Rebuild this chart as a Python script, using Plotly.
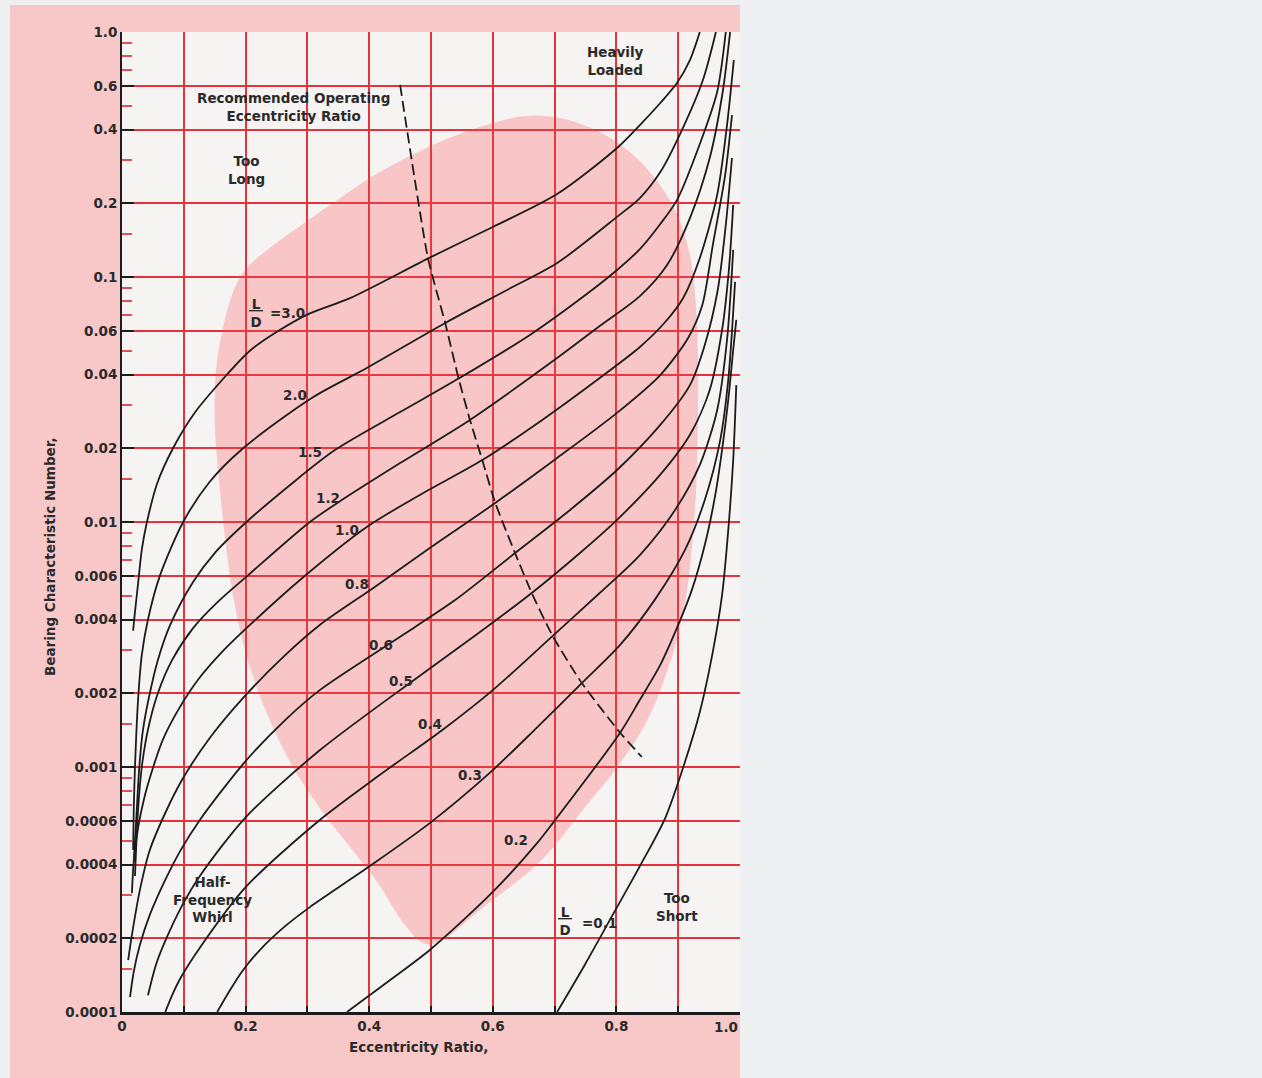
import numpy as np
import plotly.graph_objects as go

# ---- L/D curves: eccentricity ratio vs bearing characteristic number ----
ld_names = ["3.0", "2.0", "1.5", "1.2", "1.0", "0.8", "0.6", "0.5", "0.4", "0.3", "0.2", "0.1"]

ecc_ld30 = [0.018, 0.021, 0.026, 0.032, 0.040, 0.057, 0.083, 0.118, 0.170, 0.207, 0.252,
            0.304, 0.369, 0.498, 0.600, 0.704, 0.801, 0.838, 0.871, 0.898, 0.919, 0.935]
bcn_ld30 = [0.0036, 0.0043, 0.0056, 0.0077, 0.0099, 0.0144, 0.0201, 0.028, 0.040, 0.050, 0.060,
            0.071, 0.082, 0.120, 0.160, 0.218, 0.336, 0.417, 0.513, 0.619, 0.768, 1.0]

ecc_ld20 = [0.018, 0.019, 0.021, 0.026, 0.032, 0.042, 0.061, 0.099, 0.142, 0.196, 0.307,
            0.396, 0.523, 0.623, 0.704, 0.801, 0.838, 0.871, 0.906, 0.940, 0.961]
bcn_ld20 = [0.000458, 0.000668, 0.0010, 0.00188, 0.00286, 0.0040, 0.0060, 0.0100, 0.0146, 0.0200, 0.0321,
            0.0425, 0.0649, 0.0885, 0.114, 0.176, 0.210, 0.268, 0.398, 0.637, 1.0]

ecc_ld15 = [0.019, 0.023, 0.028, 0.034, 0.045, 0.058, 0.078, 0.115, 0.150, 0.196, 0.272, 0.345,
            0.450, 0.544, 0.660, 0.752, 0.801, 0.838, 0.871, 0.898, 0.935, 0.963, 0.977]
bcn_ld15 = [0.000410, 0.000608, 0.0010, 0.00142, 0.0020, 0.00273, 0.00380, 0.00569, 0.00747, 0.00972,
            0.01416, 0.0197, 0.0281, 0.0384, 0.0580, 0.0852, 0.1068, 0.130, 0.1646, 0.206, 0.349,
            0.569, 1.0]

ecc_ld12 = [0.021, 0.026, 0.032, 0.042, 0.058, 0.081, 0.115, 0.155, 0.202, 0.304, 0.358,
            0.450, 0.563, 0.704, 0.773, 0.838, 0.882, 0.919, 0.951, 0.972, 0.984]
bcn_ld12 = [0.000359, 0.000668, 0.0010, 0.00142, 0.0020, 0.00273, 0.00369, 0.00472, 0.0060, 0.0100, 0.0124,
            0.0174, 0.0261, 0.0467, 0.0631, 0.0836, 0.112, 0.174, 0.306, 0.569, 1.0]

ecc_ld10 = [0.016, 0.019, 0.026, 0.036, 0.049, 0.066, 0.091, 0.123, 0.162, 0.207, 0.288, 0.396,
            0.482, 0.583, 0.680, 0.773, 0.838, 0.879, 0.908, 0.935, 0.963, 0.979, 0.990]
bcn_ld10 = [0.000306, 0.000410, 0.000564, 0.000747, 0.000972, 0.00129, 0.00171, 0.00227, 0.00295,
            0.00380, 0.00580, 0.00954, 0.0129, 0.0179, 0.0261, 0.0387, 0.0518, 0.0655, 0.0821,
            0.1196, 0.216, 0.417, 0.768]

ecc_ld08 = [0.010, 0.016, 0.029, 0.045, 0.070, 0.097, 0.142, 0.199, 0.264, 0.320, 0.409,
            0.498, 0.604, 0.704, 0.801, 0.871, 0.916, 0.939, 0.956, 0.976, 0.987]
bcn_ld08 = [0.000163, 0.000206, 0.000315, 0.000458, 0.000649, 0.000885, 0.001313, 0.00195, 0.00286,
            0.00380, 0.00543, 0.00783, 0.01196, 0.01825, 0.0279, 0.0398, 0.0564, 0.0769, 0.135,
            0.261, 0.458]

ecc_ld06 = [0.013, 0.019, 0.029, 0.045, 0.070, 0.095, 0.126, 0.199, 0.264, 0.320, 0.442,
            0.539, 0.636, 0.725, 0.801, 0.871, 0.919, 0.943, 0.964, 0.977, 0.987]
bcn_ld06 = [0.000115, 0.000146, 0.000188, 0.000249, 0.000346, 0.000458, 0.000608, 0.00105, 0.001555,
            0.00206, 0.00330, 0.00480, 0.00747, 0.0112, 0.0163, 0.0249, 0.0362, 0.0528, 0.0885,
            0.163, 0.306]

ecc_ld05 = [0.042, 0.055, 0.070, 0.097, 0.126, 0.199, 0.320, 0.477, 0.571,
            0.663, 0.741, 0.801, 0.871, 0.919, 0.951, 0.971, 0.982, 0.989]
bcn_ld05 = [0.000117, 0.000156, 0.000195, 0.000271, 0.000359, 0.000619, 0.00117, 0.00231, 0.00343,
            0.00513, 0.00747, 0.0102, 0.0156, 0.0227, 0.0346, 0.0608, 0.107, 0.197]

ecc_ld04 = [0.070, 0.081, 0.095, 0.126, 0.199, 0.320, 0.417, 0.519, 0.600,
            0.697, 0.773, 0.838, 0.895, 0.935, 0.963, 0.979, 0.989]
bcn_ld04 = [0.0001, 0.000117, 0.000138, 0.000183, 0.000321, 0.000608, 0.000928, 0.00142, 0.00206,
            0.00343, 0.00513, 0.00733, 0.0112, 0.0171, 0.0286, 0.0553, 0.129]

ecc_ld03 = [0.154, 0.172, 0.194, 0.223, 0.264, 0.304, 0.401, 0.498, 0.595, 0.668,
            0.744, 0.806, 0.862, 0.911, 0.943, 0.968, 0.981, 0.992]
bcn_ld03 = [0.0001, 0.0001196, 0.000146, 0.000179, 0.000224, 0.000268, 0.000394, 0.000590, 0.000946,
            0.00142, 0.00220, 0.00315, 0.00481, 0.00769, 0.0123, 0.0216, 0.0380, 0.0955]

ecc_ld02 = [0.364, 0.434, 0.498, 0.600, 0.672, 0.697, 0.806, 0.838, 0.871,
            0.900, 0.922, 0.943, 0.960, 0.971, 0.981, 0.989, 0.994]
bcn_ld02 = [0.0001, 0.000135, 0.000179, 0.000309, 0.000490, 0.000590, 0.00138, 0.00188, 0.00261,
            0.00380, 0.00527, 0.00805, 0.0129, 0.0197, 0.0315, 0.0504, 0.0668]

ecc_ld01 = [0.704, 0.749, 0.794, 0.838, 0.879, 0.911, 0.935, 0.955, 0.971, 0.981, 0.989, 0.994]
bcn_ld01 = [0.0001, 0.000156, 0.000249, 0.000394, 0.000619, 0.00105, 0.001677, 0.00286, 0.00504,
            0.00927, 0.0179, 0.0362]

# ---- recommended operating eccentricity ratio (dashed) ----
ecc_recommended = [0.450, 0.495, 0.523, 0.544, 0.563, 0.583, 0.604, 0.636, 0.663, 0.697, 0.744, 0.806, 0.841]
bcn_recommended = [0.608, 0.1196, 0.0649, 0.0391, 0.0261, 0.0179, 0.01196, 0.00747, 0.00513, 0.00342,
                   0.0022, 0.00138, 0.0011]

# ---- shaded operating zone outline ----
ecc_zone = [0.178, 0.199, 0.239, 0.288, 0.353, 0.417, 0.503, 0.579, 0.652, 0.709, 0.773, 0.822, 0.862,
            0.895, 0.919, 0.930, 0.932, 0.926, 0.909, 0.883, 0.846, 0.798, 0.752, 0.676, 0.579, 0.519,
            0.490, 0.458, 0.413, 0.369, 0.320, 0.272, 0.227, 0.199, 0.181, 0.167, 0.157, 0.150, 0.154,
            0.178]
bcn_zone = [0.0844, 0.1068, 0.1313, 0.1615, 0.210, 0.268, 0.346, 0.4096, 0.454, 0.4457, 0.3907, 0.3236,
            0.2535, 0.1877, 0.1230, 0.0668, 0.0261, 0.01019, 0.00437, 0.00249, 0.001484, 0.000972,
            0.000700, 0.000410, 0.000261, 0.000197, 0.000190, 0.000226, 0.000339, 0.000471, 0.000680,
            0.001048, 0.001842, 0.00300, 0.00480, 0.00844, 0.01484, 0.0261, 0.0458, 0.0844]

# ---- axis ticks ----
y_major = [1e-4, 2e-4, 4e-4, 6e-4, 1e-3, 2e-3, 4e-3, 6e-3, 0.01, 0.02, 0.04, 0.06, 0.1, 0.2, 0.4, 0.6, 1.0]
y_major_text = ["0.0001", "0.0002", "0.0004", "0.0006", "0.001", "0.002", "0.004", "0.006",
                "0.01", "0.02", "0.04", "0.06", "0.1", "0.2", "0.4", "0.6", "1.0"]
y_minor_mult = [1.5, 3, 5, 7, 8, 9]
x_ticks = [0, 0.1, 0.2, 0.3, 0.4, 0.5, 0.6, 0.7, 0.8, 0.9, 1.0]
x_tick_text = ["0", "", "0.2", "", "0.4", "", "0.6", "", "0.8", "", ""]

# ---- curve label positions (eccentricity, bcn) ----
curve_label_pos = {
    "2.0": (0.280, 0.0330), "1.5": (0.304, 0.0193), "1.2": (0.333, 0.01253),
    "1.0": (0.364, 0.00927), "0.8": (0.380, 0.00558), "0.6": (0.419, 0.00315),
    "0.5": (0.451, 0.00224), "0.4": (0.498, 0.00150), "0.3": (0.563, 0.000927),
    "0.2": (0.638, 0.000504),
}

FONT = "DejaVu Sans"
FS = 13.5
INK = "#1c1c1c"
TXT = "#2a2a2a"
RED = "#e5323c"
RED_TICK = "#e0505a"

curves = [
    (ecc_ld30, bcn_ld30), (ecc_ld20, bcn_ld20), (ecc_ld15, bcn_ld15), (ecc_ld12, bcn_ld12),
    (ecc_ld10, bcn_ld10), (ecc_ld08, bcn_ld08), (ecc_ld06, bcn_ld06), (ecc_ld05, bcn_ld05),
    (ecc_ld04, bcn_ld04), (ecc_ld03, bcn_ld03), (ecc_ld02, bcn_ld02), (ecc_ld01, bcn_ld01),
]

fig = go.Figure()

# translucent operating zone so the grid stays visible through it
fig.add_trace(go.Scatter(
    x=ecc_zone, y=bcn_zone, mode="lines", fill="toself",
    fillcolor="rgba(255,70,70,0.26)", line=dict(width=0, shape="spline", smoothing=1.0),
    hoverinfo="skip", showlegend=False,
))

for name, (ex, by) in zip(ld_names, curves):
    fig.add_trace(go.Scatter(
        x=ex, y=by, mode="lines", name="L/D=" + name,
        line=dict(color=INK, width=1.8, shape="spline", smoothing=0.8),
        showlegend=False,
    ))

fig.add_trace(go.Scatter(
    x=ecc_recommended, y=bcn_recommended, mode="lines", name="Recommended",
    line=dict(color=INK, width=1.8, dash="11px,5px", shape="spline", smoothing=0.5),
    showlegend=False,
))

minor_y = [m * 10.0 ** k for k in range(-4, 0) for m in y_minor_mult]

W, H = 1262, 1078
ML, MR, MT, MB = 122, 522, 32, 66


def font(size=FS):
    return dict(family=FONT, size=size, color=TXT, weight="bold")


def txt(x, bcn, text, **kw):
    d = dict(x=x, y=float(np.log10(bcn)), xref="x", yref="y", text=text, showarrow=False,
             font=font())
    d.update(kw)
    return d


annotations = [
    txt(0.277, 0.494, "Recommended Operating<br>Eccentricity Ratio"),
    txt(0.202, 0.2735, "Too<br>Long"),
    txt(0.799, 0.762, "Heavily<br>Loaded"),
    txt(0.217, 0.0713, "<u>\u2009L\u2009</u><br>D"),
    txt(0.236, 0.0713, "=3.0", xanchor="left"),
    txt(0.717, 0.000235, "<u>\u2009L\u2009</u><br>D"),
    txt(0.741, 0.000231, "=0.1", xanchor="left"),
    txt(0.147, 0.000289, "Half-<br>Frequency<br>Whirl"),
    txt(0.898, 0.000269, "Too<br>Short"),
]
for lbl, (ex, by) in curve_label_pos.items():
    annotations.append(txt(ex, by, lbl))

# axis titles and the clipped end label of the x axis
annotations += [
    dict(x=-0.1327, y=0.4653, xref="paper", yref="paper", text="Bearing Characteristic Number,",
         textangle=-90, showarrow=False, font=font()),
    dict(x=0.479, y=-0.0459, xref="paper", yref="paper", text="Eccentricity Ratio,",
         showarrow=False, font=font()),
    dict(x=1.0, y=0, xref="paper", yref="paper", text="1.0", xanchor="right", yanchor="top",
         yshift=-5, showarrow=False, font=font()),
]

pw = W - ML - MR
ph = H - MT - MB
shapes = [
    # pink page behind the chart
    dict(type="rect", xref="paper", yref="paper", layer="below",
         x0=(10 - ML) / pw, x1=1.0, y0=-(MB) / ph, y1=1 + (MT - 5) / ph,
         fillcolor="#f8c8c8", line=dict(width=0)),
    # plot area paper
    dict(type="rect", xref="paper", yref="paper", layer="below",
         x0=0, x1=1, y0=0, y1=1, fillcolor="#f6f3f3", line=dict(width=0)),
]

fig.update_layout(
    width=W, height=H, autosize=False,
    margin=dict(l=ML, r=MR, t=MT, b=MB, pad=0),
    paper_bgcolor="#eeeff1", plot_bgcolor="#f6f3f3",
    font=font(),
    shapes=shapes, annotations=annotations,
    xaxis=dict(
        range=[0, 1], tickmode="array", tickvals=x_ticks, ticktext=x_tick_text,
        showgrid=True, gridcolor=RED, gridwidth=1.6,
        ticks="inside", ticklen=6, tickwidth=2, tickcolor=INK,
        showline=True, linecolor=INK, linewidth=2.5, zeroline=False,
        tickfont=font(),
    ),
    yaxis=dict(
        type="log", range=[-4, 0], tickmode="array", tickvals=y_major, ticktext=y_major_text,
        showgrid=True, gridcolor=RED, gridwidth=1.6,
        minor=dict(tickmode="array", tickvals=minor_y, ticks="inside", ticklen=10, tickwidth=2,
                   tickcolor=RED_TICK, showgrid=False),
        ticks="inside", ticklen=12, tickwidth=2, tickcolor=INK,
        showline=True, linecolor=INK, linewidth=2, zeroline=False,
        tickfont=font(),
    ),
)

fig.write_html("out.html")
